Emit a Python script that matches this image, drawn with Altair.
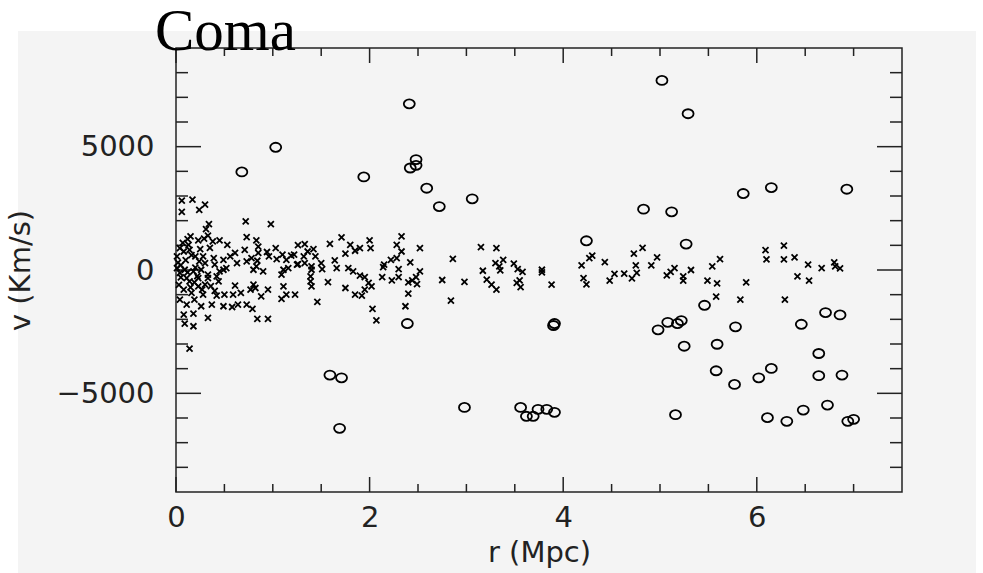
import altair as alt
import pandas as pd

# ---- data: members (crosses) ----
member_r = [0.06,0.17,0.30,0.24,0.06,0.72,0.98,0.34,0.31,0.15,0.33,0.73,0.83,0.45,0.23,0.29,0.38,0.13,0.53,0.71,
            0.85,1.03,1.26,0.94,0.85,0.61,0.04,0.08,0.14,0.01,0.20,0.28,0.39,0.49,0.56,0.78,0.96,1.10,1.19,1.22,
            0.73,0.84,1.04,1.14,0.63,0.30,0.24,0.40,0.49,0.01,0.09,0.18,0.26,0.33,0.42,0.45,0.52,0.80,0.90,1.11,
            1.16,1.25,1.09,0.83,0.11,0.04,0.14,0.23,0.33,0.44,0.30,0.23,0.61,0.80,0.95,1.11,0.82,0.08,0.16,0.28,
            0.42,0.50,0.59,0.67,0.77,0.88,1.09,1.14,1.23,0.04,0.11,0.19,0.26,0.37,0.49,0.58,0.64,0.73,0.79,0.08,
            0.18,0.33,0.09,0.18,0.84,0.95,0.14,
            0.02,0.05,0.10,0.12,0.20,0.22,0.07,0.16,0.35,0.27,0.36,0.19,0.03,0.12,0.25,0.40,0.05,0.15,
            1.71,1.59,1.80,2.00,2.01,1.90,1.85,1.75,2.33,2.28,2.52,2.33,1.33,1.42,1.36,1.44,1.32,1.26,1.33,1.40,
            1.50,1.64,1.66,1.51,1.40,1.78,1.83,1.90,1.95,2.02,1.99,1.39,1.39,1.57,1.40,1.75,1.85,1.92,1.95,1.46,
            2.03,2.07,2.15,2.14,2.22,2.28,2.42,2.30,2.13,2.23,2.30,2.40,2.44,2.49,2.48,2.52,2.40,2.37,2.75,
            2.86,3.15,3.31,3.38,3.30,3.34,3.35,3.17,3.49,3.53,3.58,3.78,3.78,3.21,3.26,3.31,3.55,3.52,3.56,3.88,
            2.98,2.84,4.19,4.27,4.30,4.43,4.53,4.48,4.21,4.24,
            4.63,4.71,4.76,4.73,4.82,4.75,4.91,4.97,5.07,5.11,5.15,5.24,5.24,5.32,5.54,5.62,5.49,5.59,5.58,5.89,
            5.83,6.09,6.28,6.10,6.28,6.39,6.53,6.67,6.80,6.81,6.86,6.42,6.54,6.29]
member_v = [2815,2855,2650,2440,2360,1970,1860,1860,1660,1360,1390,1330,1200,1200,1200,1270,1160,1020,1020,820,
            950,890,1010,730,690,690,890,750,820,550,550,550,485,415,550,485,550,620,580,620,
            350,375,445,415,280,280,350,215,10,80,10,-55,10,-190,-260,-55,80,10,-55,10,
            80,215,-190,145,-325,-120,-460,-325,-325,-460,-595,-660,-635,-595,-800,-660,-730,-800,-930,-1000,
            -1040,-1000,-1000,-930,-800,-1070,-1170,-1000,-1000,-1200,-1400,-1200,-1470,-1400,-1470,-1500,-1400,-1400,-1580,-1810,
            -1770,-1940,-2170,-2280,-1980,-1980,-3190,
            300,-300,400,-100,100,-250,1100,600,900,-800,-650,-500,-600,1250,850,-850,200,-700,
            1320,1060,1020,1200,890,890,780,660,1360,1020,890,750,1050,850,750,550,550,240,280,145,
            280,390,80,40,10,80,-55,-230,-285,-660,-525,-260,-460,-490,-660,-730,-1000,-1040,-800,-1290,
            -1580,-2040,215,120,415,485,310,40,-285,-420,-285,-500,-420,-570,-285,-55,-960,-1470,-405,
            455,930,890,415,280,145,-15,-30,255,40,-80,10,-95,-390,-595,-800,-420,-525,-690,-595,
            -485,-1240,185,485,580,320,-160,-430,-325,-580,
            -150,-340,-120,660,900,185,185,510,-220,-80,80,-260,-430,0,145,445,-430,-540,-1080,-500,
            -1200,810,990,430,430,510,215,80,310,145,65,-260,-430,-1200]

# ---- data: interlopers (circles) ----
inter_r = [0.68,1.03,1.94,2.41,2.48,2.42,2.48,2.59,2.72,3.06,2.39,1.59,1.71,1.69,2.98,3.56,3.62,3.69,3.74,3.83,
           3.91,3.90,3.91,4.24,4.83,5.02,5.12,5.29,5.27,4.98,5.08,5.18,5.22,5.25,5.16,5.46,5.59,5.58,5.78,5.77,
           5.86,6.02,6.15,6.15,6.11,6.31,6.46,6.48,6.64,6.64,6.71,6.73,6.86,6.88,6.93,6.94,7.00]
inter_v = [3975,4975,3775,6735,4475,4135,4245,3315,2570,2885,-2170,-4260,-4370,-6420,-5570,-5570,-5930,-5930,-5650,-5650,
           -5770,-2250,-2170,1185,2465,7685,2360,6335,1050,-2425,-2120,-2170,-2050,-3090,-5865,-1430,-3010,-4085,-2305,-4640,
           3100,-4370,-3990,3340,-5985,-6135,-2200,-5680,-3385,-4285,-1725,-5475,-1820,-4260,3275,-6135,-6055]

# ---- axis ticks and labels ----
x_labels = [0, 2, 4, 6]
x_minor = [0.5, 1, 1.5, 2.5, 3, 3.5, 4.5, 5, 5.5, 6.5, 7]
y_labels = [-5000, 0, 5000]
y_minor = [-8000, -7000, -6000, -4000, -3000, -2000, -1000, 1000, 2000, 3000, 4000, 6000, 7000, 8000]
title_text = "Coma"
x_title = "r (Mpc)"
y_title = "v (Km/s)"

W, H = 726, 444
INK = "#222222"
FONT = "DejaVu Sans"

xs = alt.Scale(domain=[0, 7.5], nice=False, zero=False)
ys = alt.Scale(domain=[-9000, 9000], nice=False, zero=False)

xa = alt.Axis(
    values=x_labels, format="d", ticks=False, domain=False, grid=False, zindex=2,
    labelFont=FONT, labelFontSize=29, labelColor=INK, labelPadding=11, labelFlush=False,
    title=x_title, titleFont=FONT, titleFontSize=29, titleFontWeight="normal", titleColor=INK,
    titleY=60, titleBaseline="middle")
ya = alt.Axis(
    values=y_labels, format="d", ticks=False, domain=False, grid=False, zindex=2,
    labelFont=FONT, labelFontSize=29, labelColor=INK, labelPadding=22, labelFlush=False,
    title=y_title, titleFont=FONT, titleFontSize=29, titleFontWeight="normal", titleColor=INK,
    titleX=-156, titleY=H / 2, titleAngle=-90, titleAlign="center", titleBaseline="middle")

members = pd.DataFrame({"r": member_r, "v": member_v})
inter = pd.DataFrame({"r": inter_r, "v": inter_v})
one = alt.Data(values=[{"a": 1}])

def white_rect(x1, x2, y1, y2):
    return alt.Chart(one).mark_rect(color="white").encode(
        x=alt.value(x1), x2=alt.value(x2), y=alt.value(y1), y2=alt.value(y2))

bg = [white_rect(-176, 807, -48, -17), white_rect(-176, -158, -48, 525), white_rect(800, 807, -48, 525)]

def xticks(vals, length):
    d = pd.DataFrame({"r": vals})
    bot = alt.Chart(d).mark_rule(color=INK, strokeWidth=1.5).encode(
        x=alt.X("r:Q", scale=xs, axis=xa), y=alt.value(H), y2=alt.value(H - length))
    top = alt.Chart(d).mark_rule(color=INK, strokeWidth=1.5).encode(
        x=alt.X("r:Q", scale=xs, axis=xa), y=alt.value(0), y2=alt.value(length))
    return [bot, top]

def yticks(vals, length):
    d = pd.DataFrame({"v": vals})
    left = alt.Chart(d).mark_rule(color=INK, strokeWidth=1.5).encode(
        y=alt.Y("v:Q", scale=ys, axis=ya), x=alt.value(0), x2=alt.value(length))
    right = alt.Chart(d).mark_rule(color=INK, strokeWidth=1.5).encode(
        y=alt.Y("v:Q", scale=ys, axis=ya), x=alt.value(W), x2=alt.value(W - length))
    return [left, right]

ticks = xticks(x_labels, 15) + xticks(x_minor, 8) + yticks(y_labels, 25) + yticks(y_minor, 12)

crosses = alt.Chart(members).mark_point(
    shape="M-1,-1L1,1M-1,1L1,-1", size=36, filled=False, strokeWidth=1.8, color="black", opacity=1
).encode(x=alt.X("r:Q", scale=xs, axis=xa), y=alt.Y("v:Q", scale=ys, axis=ya))

circles = alt.Chart(inter).mark_point(
    shape="M-1,0A1,0.82,0,1,1,1,0A1,0.82,0,1,1,-1,0Z", size=121, filled=False,
    strokeWidth=1.8, color="black", opacity=1
).encode(x=alt.X("r:Q", scale=xs, axis=xa), y=alt.Y("v:Q", scale=ys, axis=ya))

title = alt.Chart(one).mark_text(
    text=title_text, font="Liberation Serif", fontSize=59, color="black",
    align="left", baseline="alphabetic"
).encode(x=alt.value(-21), y=alt.value(2))

chart = alt.layer(*bg, *ticks, crosses, circles, title).properties(
    width=W, height=H,
    autosize=alt.AutoSizeParams(type="none"),
    padding={"left": 176, "top": 48, "right": 81, "bottom": 81},
).configure(background="#f4f4f4").configure_view(stroke=INK, strokeWidth=1.5, fill=None)

chart.save("out.html", embed_options={"renderer": "svg", "actions": False})
